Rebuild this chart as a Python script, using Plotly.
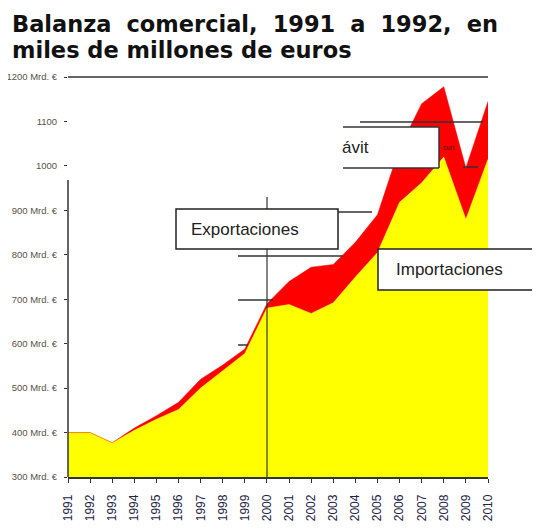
import plotly.graph_objects as go

# Balanza comercial (miles de millones de euros)
years = list(range(1991, 2011))
exportaciones = [400, 400, 377, 410, 438, 468, 520, 552, 588, 690,
                 740, 772, 778, 828, 890, 1040, 1140, 1178, 995, 1145]
importaciones = [400, 400, 377, 405, 430, 452, 500, 540, 578, 680,
                 688, 668, 692, 750, 805, 918, 962, 1020, 880, 1015]

y_ticks = [300, 400, 500, 600, 700, 800, 900, 1000, 1100, 1200]
y_labels = ['300 Mrd. €', '400 Mrd. €', '500 Mrd. €', '600 Mrd. €', '700 Mrd. €',
            '800 Mrd. €', '900 Mrd. €', '1000', '1100', '1200 Mrd. €']

# the page body adds 8px, so the figure is 8px smaller than the window
W, H = 532, 521
L, R, T, B = 60, 52, 69, 52
LINE = '#333333'

# helpers take page pixel positions (plot area: x 68-488, y 77-477)
def fx(px):
    return (px - 68) / 420


def fy(py):
    return (477 - py) / 400


def hline(x0, x1, y, width=1.5):
    return dict(type='line', xref='paper', yref='paper', x0=fx(x0), x1=fx(x1),
                y0=fy(y), y1=fy(y), line=dict(color=LINE, width=width))


def vline(x, y0, y1, width=1.5):
    return dict(type='line', xref='paper', yref='paper', x0=fx(x), x1=fx(x),
                y0=fy(y0), y1=fy(y1), line=dict(color=LINE, width=width))


def box(x0, x1, y0, y1):
    return dict(type='rect', xref='paper', yref='paper', x0=fx(x0), x1=fx(x1),
                y0=fy(y1), y1=fy(y0), fillcolor='white',
                line=dict(color='#222222', width=1.5))


fig = go.Figure()
fig.add_trace(go.Scatter(x=years, y=importaciones, mode='lines', fill='tozeroy',
                         fillcolor='#FFFF00', line=dict(color='#FFFF00', width=0.5),
                         hoverinfo='skip', showlegend=False))
fig.add_trace(go.Scatter(x=years, y=exportaciones, mode='lines', fill='tonexty',
                         fillcolor='#FF0000', line=dict(color='#FF0000', width=0.5),
                         hoverinfo='skip', showlegend=False))

shapes = [
    vline(68, 477, 180),          # eje y
    hline(68, 488, 77),           # linea superior
    vline(267, 477, 197, 1.2),    # año 2000
    hline(238, 343, 256),
    hline(238, 273, 300),
    hline(238, 248, 345),
    hline(338, 372, 212),
    hline(360, 483, 122),
    hline(463, 478, 167),
    box(176, 338, 209, 249),
    box(378, 548, 249, 290),
    # caja "superávit" sin borde izquierdo
    dict(type='rect', xref='paper', yref='paper', x0=fx(343), x1=fx(439),
         y0=fy(168), y1=fy(127), fillcolor='white', line=dict(width=0)),
    hline(343, 439, 127),
    hline(343, 439, 168),
    vline(439, 127, 168),
]
for s in shapes:
    s['layer'] = 'above'

TITLE_FONT = dict(family='DejaVu Sans', size=22.5, color='#111111')
SP = '\u2002\u2006'
annotations = [
    dict(text='<b>' + SP.join(['Balanza', 'comercial,', '1991', 'a', '1992,', 'en']) + '</b>',
         x=fx(10), y=fy(9), xanchor='left', yanchor='top', font=TITLE_FONT),
    dict(text='<b>miles de millones de euros</b>', x=fx(10), y=fy(35),
         xanchor='left', yanchor='top', font=TITLE_FONT),
    dict(text='Exportaciones', x=fx(189), y=fy(229), xanchor='left', yanchor='middle',
         font=dict(size=17, color='#222222')),
    dict(text='Importaciones', x=fx(394), y=fy(269), xanchor='left', yanchor='middle',
         font=dict(size=17, color='#222222')),
    dict(text='ávit', x=fx(340), y=fy(147), xanchor='left', yanchor='middle',
         font=dict(size=17, color='#222222')),
    dict(text='sun', x=fx(441), y=fy(147), xanchor='left', yanchor='middle',
         font=dict(size=7, color='#550000')),
]
for a in annotations:
    a.update(xref='paper', yref='paper', showarrow=False)

fig.update_layout(
    width=W, height=H,
    margin=dict(l=L, r=R, t=T, b=B),
    paper_bgcolor='white', plot_bgcolor='white',
    font=dict(family='Liberation Sans, Arial, sans-serif'),
    shapes=shapes, annotations=annotations,
    xaxis=dict(range=[1991, 2010], tickvals=years, tickangle=-90, automargin=False,
               showgrid=False, zeroline=False, showline=True,
               linecolor=LINE, linewidth=1.5, ticks='outside', ticklen=4,
               tickcolor=LINE, ticklabelstandoff=7,
               tickfont=dict(size=12, color='#222244')),
    yaxis=dict(range=[300, 1200], tickvals=y_ticks, ticktext=y_labels, automargin=False,
               showgrid=False, zeroline=False, showline=False,
               ticks='outside', ticklen=3, tickcolor=LINE, ticklabelstandoff=5,
               tickfont=dict(size=9.5, color='#5a5048')),
)

fig.write_html('out.html')
